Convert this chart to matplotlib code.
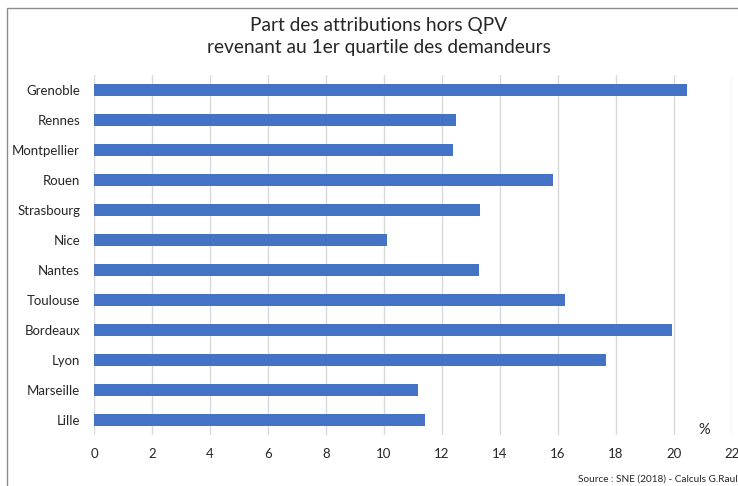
import matplotlib.pyplot as plt
import matplotlib.patches as patches

# Donnees
villes = ['Lille', 'Marseille', 'Lyon', 'Bordeaux', 'Toulouse', 'Nantes',
          'Nice', 'Strasbourg', 'Rouen', 'Montpellier', 'Rennes', 'Grenoble']
parts = [11.4, 11.17, 17.66, 19.93, 16.24, 13.28,
         10.1, 13.31, 15.83, 12.37, 12.48, 20.45]
graduations = list(range(0, 24, 2))

plt.rcParams['font.family'] = ['Lato', 'DejaVu Sans']

fig = plt.figure(figsize=(7.38, 4.86), dpi=100)
ax = fig.add_axes([94 / 738, 1 - 435 / 486, 638 / 738, 360 / 486])

ax.barh(villes, parts, height=0.4, color='#4472C4', zorder=3)

ax.set_xlim(0, 22)
ax.set_ylim(-0.5, len(villes) - 0.5)
ax.set_xticks(graduations)
ax.grid(axis='x', color='#d9d9d9', linewidth=1, zorder=0)
for s in ax.spines.values():
    s.set_visible(False)
ax.tick_params(axis='both', length=0, labelsize=9.5, colors='#262626')
ax.tick_params(axis='x', pad=9)
ax.tick_params(axis='y', pad=10)

fig.text(0.5 + 10 / 738, 1 - 25 / 486, 'Part des attributions hors QPV',
         ha='center', va='center', fontsize=13.8, color='#262626')
fig.text(0.5 + 10 / 738, 1 - 48 / 486, 'revenant au 1er quartile des demandeurs',
         ha='center', va='center', fontsize=13.8, color='#262626')
fig.text(704 / 738, 1 - 430 / 486, '%', ha='center', va='center',
         fontsize=10.5, color='#262626')
fig.text(578 / 738, 1 - 479 / 486, 'Source : SNE (2018) - Calculs G.Raulin',
         ha='left', va='center', fontsize=7.2, color='#262626')

# cadre du graphique
fig.patches.append(patches.Rectangle((7 / 738, -0.1), 1.2, 1 - 8 / 486 + 0.1,
                                     transform=fig.transFigure, fill=False,
                                     edgecolor='#8c8c8c', linewidth=1))

fig.savefig('out.png', dpi=100)
